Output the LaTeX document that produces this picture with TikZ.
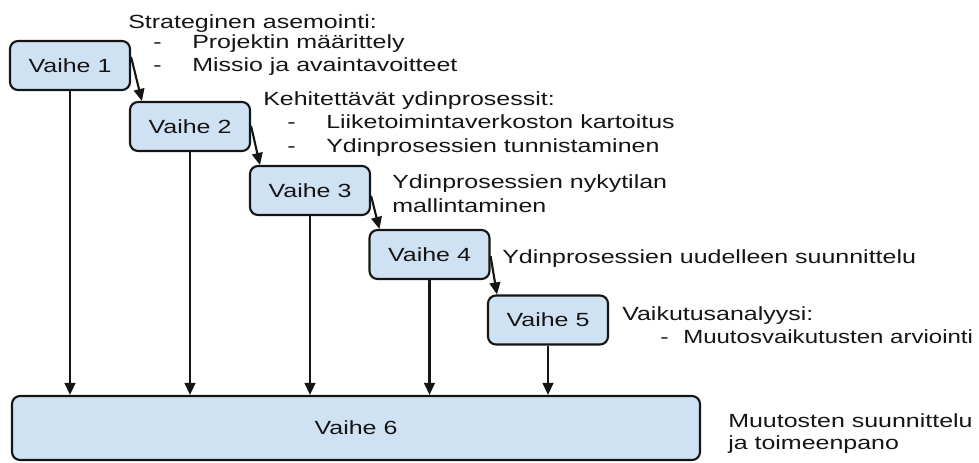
\documentclass[tikz,border=0pt]{standalone}
\usepackage{fontspec}
\setmainfont{Liberation Sans}
\usetikzlibrary{arrows.meta,calc}
\definecolor{boxfill}{HTML}{CFE2F3}
\definecolor{ink}{HTML}{151515}
% widened sans text
\newcommand\wide[1]{\scalebox{1.31}[1]{#1}}

\begin{document}
\begin{tikzpicture}[x=0.75pt,y=-0.75pt,
  stage/.style={draw=ink, line width=1.6pt, fill=boxfill, rounded corners=6pt,
    minimum width=90pt, minimum height=36.75pt, inner sep=0pt,
    font=\fontsize{14.3}{16}\selectfont, text=ink},
  note/.style={anchor=base west, inner sep=0pt,
    font=\fontsize{14.3}{16}\selectfont, text=ink},
  flow/.style={draw=ink, line width=1.6pt, -{Triangle[length=9pt,width=8pt]}}]
\useasboundingbox (0,0) rectangle (979,462);

% stages
\node[stage] (v1) at (70,65.5)   {\wide{Vaihe 1}};
\node[stage] (v2) at (190,126.5) {\wide{Vaihe 2}};
\node[stage] (v3) at (310,190.5) {\wide{Vaihe 3}};
\node[stage] (v4) at (429.5,254.5) {\wide{Vaihe 4}};
\node[stage] (v5) at (548,320)   {\wide{Vaihe 5}};
\node[stage, minimum width=516pt, minimum height=48pt] (v6) at (356,428) {\wide{Vaihe 6}};

% cascade between stages
\draw[flow] ($(v1.north east)+(0,17)$) -- ($(v2.north west)+(13,0)$);
\draw[flow] ($(v2.north east)+(0,25)$) -- ($(v3.north west)+(11,0)$);
\draw[flow] ($(v3.north east)+(0,31)$) -- ($(v4.north west)+(11,0)$);
\draw[flow] ($(v4.north east)+(0,27)$) -- ($(v5.north west)+(10,0)$);

% every stage feeds the final one
\foreach \s in {v1,v2,v3,v4,v5}
  \draw[flow] (\s.south) -- (\s.south |- v6.north);

% descriptions
\node[note] (t1)  at (128,28)  {\wide{Strateginen asemointi:}};
\node[note] (t1a) at (153,48)  {\wide{-}};
\node[note] (t1b) at (192,48)  {\wide{Projektin määrittely}};
\node[note] (t1c) at (153,71)  {\wide{-}};
\node[note] (t1d) at (192,71)  {\wide{Missio ja avaintavoitteet}};

\node[note] (t2)  at (263,105) {\wide{Kehitettävät ydinprosessit:}};
\node[note] (t2a) at (287,128) {\wide{-}};
\node[note] (t2b) at (326,128) {\wide{Liiketoimintaverkoston kartoitus}};
\node[note] (t2c) at (287,152) {\wide{-}};
\node[note] (t2d) at (326,152) {\wide{Ydinprosessien tunnistaminen}};

\node[note] (t3)  at (392,188) {\wide{Ydinprosessien nykytilan}};
\node[note] (t3a) at (392,212) {\wide{mallintaminen}};

\node[note] (t4)  at (502,263) {\wide{Ydinprosessien uudelleen suunnittelu}};

\node[note] (t5)  at (622,320) {\wide{Vaikutusanalyysi:}};
\node[note] (t5a) at (660,343) {\wide{-}};
\node[note] (t5b) at (683,343) {\scalebox{1.26}[1]{Muutosvaikutusten arviointi}};

\node[note] (t6)  at (728,427) {\wide{Muutosten suunnittelu}};
\node[note] (t6a) at (728,449) {\wide{ja toimeenpano}};
\end{tikzpicture}
\end{document}
